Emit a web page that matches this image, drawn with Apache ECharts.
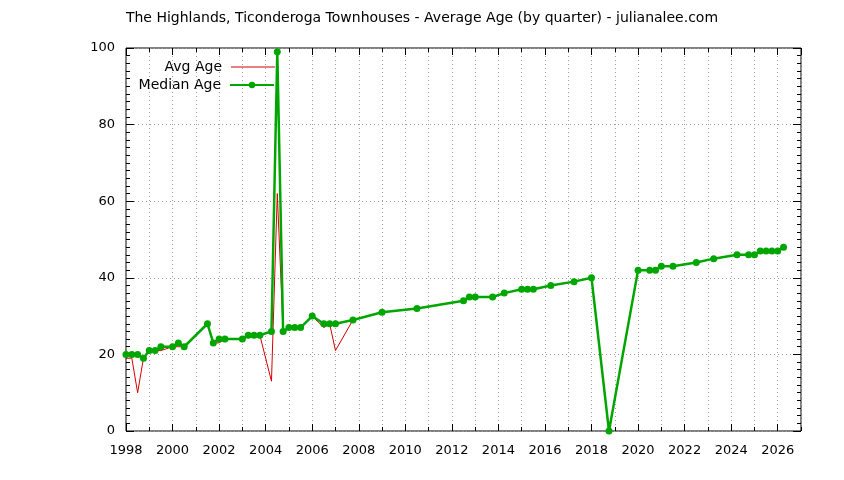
<!DOCTYPE html>
<html>
<head>
<meta charset="utf-8">
<script src="https://cdn.jsdelivr.net/npm/echarts@6/dist/echarts.min.js"></script>
<style>html,body{margin:0;padding:0;background:#fff}#c{width:844px;height:480px}</style>
</head>
<body>
<div id="c"></div>
<script>
const quarters = [1998.0,1998.25,1998.5,1998.75,1999.0,1999.25,1999.5,2000.0,2000.25,2000.5,2001.5,2001.75,2002.0,2002.25,2003.0,2003.25,2003.5,2003.75,2004.25,2004.5,2004.75,2005.0,2005.25,2005.5,2006.0,2006.5,2006.75,2007.0,2007.75,2009.0,2010.5,2012.5,2012.75,2013.0,2013.75,2014.25,2015.0,2015.25,2015.5,2016.25,2017.25,2018.0,2018.75,2020.0,2020.5,2020.75,2021.0,2021.5,2022.5,2023.25,2024.25,2024.75,2025.0,2025.25,2025.5,2025.75,2026.0,2026.25];
const medianAge = [20,20,20,19,21,21,22,22,23,22,28,23,24,24,24,25,25,25,26,99,26,27,27,27,30,28,28,28,29,31,32,34,35,35,35,36,37,37,37,38,39,40,0,42,42,42,43,43,44,45,46,46,46,47,47,47,47,48];
const avgAge = [19,19,10,19,21,21,21,22,22,22,28,23,23,24,24,25,25,25,13,62,26,27,27,27,30,27,28,21,29,31,32,34,35,35,35,36,37,37,37,38,39,40,0,42,42,42,43,43,44,45,46,46,46,47,47,47,47,48];
const xMin = 1998, xMax = 2027, yMin = 0, yMax = 100;

const FONT = 'DejaVu Sans';
const gridDot = {show:true, lineStyle:{color:'#a0a0a0', type:[1,3], width:1}};
const chart = echarts.init(document.getElementById('c'), null, {renderer:'canvas'});
const baseX = {type:'value', min:xMin, max:xMax, gridIndex:0, axisLine:{show:false}, splitLine:{show:false}, axisLabel:{show:false}};
const baseY = {type:'value', min:yMin, max:yMax, interval:20, gridIndex:0, axisLine:{show:false}, splitLine:{show:false}, axisLabel:{show:false}};
const legendText = {fontFamily:FONT, fontSize:14, color:'#000', padding:[0,4,0,0]};
chart.setOption({
  animation:false,
  backgroundColor:'#fff',
  title:{text:'The Highlands, Ticonderoga Townhouses - Average Age (by quarter) - julianalee.com', left:'center', top:6,
    textStyle:{fontFamily:FONT, fontSize:14, fontWeight:'normal', color:'#000'}},
  grid:{left:126, right:43, top:48, bottom:49, show:true, borderColor:'#000', borderWidth:1},
  legend:[
    {data:[{name:'Avg Age', icon:'rect'}], right:569, top:60, padding:0, align:'right', itemWidth:44, itemHeight:1, textStyle:legendText},
    {data:['Median Age'], right:569, top:78, padding:0, align:'right', itemWidth:44, itemHeight:8, textStyle:legendText}
  ],
  xAxis:[
    Object.assign({}, baseX, {position:'bottom', interval:1, splitLine:gridDot, axisTick:{show:true, inside:true, length:4, lineStyle:{color:'#000'}}}),
    Object.assign({}, baseX, {position:'bottom', interval:2, axisTick:{show:true, inside:true, length:7, lineStyle:{color:'#000'}},
      axisLabel:{show:true, showMaxLabel:false, margin:13, fontFamily:FONT, fontSize:13, color:'#000', formatter:v=>String(v)}}),
    Object.assign({}, baseX, {position:'top', interval:1, axisTick:{show:true, inside:true, length:4, lineStyle:{color:'#000'}}}),
    Object.assign({}, baseX, {position:'top', interval:2, axisTick:{show:true, inside:true, length:7, lineStyle:{color:'#000'}}})
  ],
  yAxis:[
    Object.assign({}, baseY, {position:'left', splitLine:gridDot, axisTick:{show:true, inside:true, length:8, lineStyle:{color:'#000'}},
      minorTick:{show:true, splitNumber:10, length:4, lineStyle:{color:'#000'}},
      axisLabel:{show:true, margin:11, fontFamily:FONT, fontSize:13, color:'#000'}}),
    Object.assign({}, baseY, {position:'right', axisTick:{show:true, inside:true, length:8, lineStyle:{color:'#000'}},
      minorTick:{show:true, splitNumber:10, length:4, lineStyle:{color:'#000'}}})
  ],
  series:[
    {name:'Avg Age', type:'line', xAxisIndex:0, yAxisIndex:0, showSymbol:false, symbol:'none',
      lineStyle:{color:'#d40000', width:1}, itemStyle:{color:'#d40000'},
      data:quarters.map((q,i)=>[q, avgAge[i]])},
    {name:'Median Age', type:'line', xAxisIndex:0, yAxisIndex:0, symbol:'circle', symbolSize:7,
      lineStyle:{color:'#00a600', width:2.5}, itemStyle:{color:'#00a600'},
      data:quarters.map((q,i)=>[q, medianAge[i]])}
  ]
});
</script>
</body>
</html>
